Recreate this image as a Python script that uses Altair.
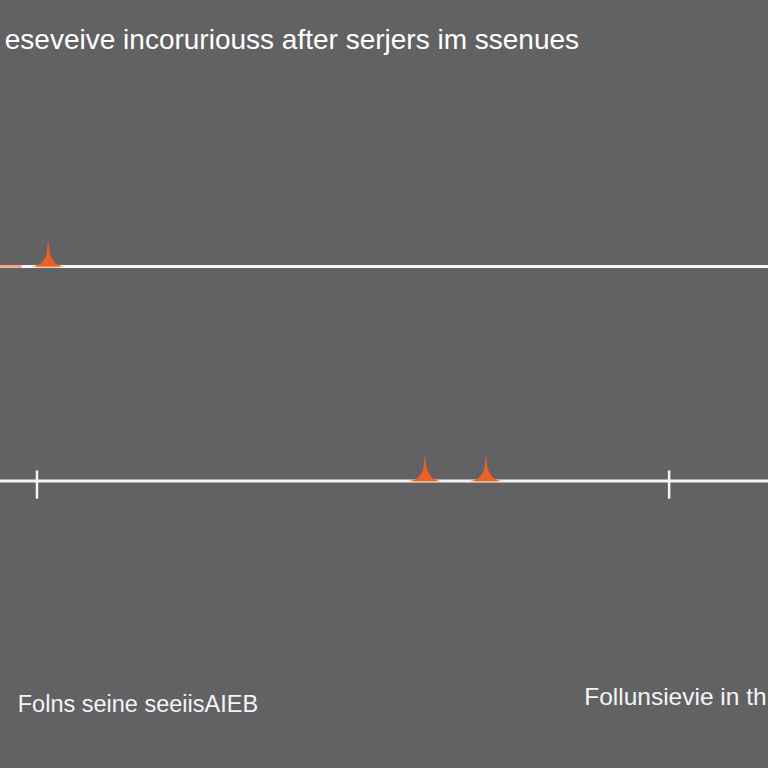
import altair as alt
import pandas as pd

# --- data (x and y in chart units: 16 x 16 grid) ---
series = ["upper", "lower"]
series_level = [10.45, 5.98]
series_start = [0.0, 0.0]
series_end = [16.0, 16.0]

tick_x = [0.77, 13.94]
tick_series = ["lower", "lower"]

marker_x = [1.0, 8.85, 10.12]
marker_series = ["upper", "lower", "lower"]

title_text = "eseveive incoruriouss  after serjers im ssenues"
foot_labels = ["Folns seine seeiisAIEB", "Follunsievie in th"]
foot_x = [0.37, 12.17]
foot_y = [1.17, 1.32]

level = dict(zip(series, series_level))

lines = pd.DataFrame({"series": series, "y": series_level, "x": series_start, "x2": series_end})
ticks = pd.DataFrame({"x": tick_x, "y": [level[s] for s in tick_series]})
ticks["y1"] = ticks["y"] + 0.22
ticks["y2"] = ticks["y"] - 0.37
markers = pd.DataFrame({"x": marker_x, "y": [level[s] for s in marker_series]})
glow = pd.DataFrame({"x": [0.0], "x2": [0.45], "y": [level["upper"]]})
titles = pd.DataFrame({"label": [title_text], "x": [0.1], "y": [14.97]})
foots = pd.DataFrame({"label": foot_labels, "x": foot_x, "y": foot_y, "size": [23.5, 24.5]})

xs = alt.Scale(domain=[0, 16], nice=False, zero=False)
ys = alt.Scale(domain=[0, 16], nice=False, zero=False)
X = lambda f: alt.X(f, type="quantitative", scale=xs, axis=None)
Y = lambda f: alt.Y(f, type="quantitative", scale=ys, axis=None)

line_layer = alt.Chart(lines).mark_rule(color="#f4f4f4", strokeWidth=3).encode(
    x=X("x"), x2="x2", y=Y("y"))

glow_layer = alt.Chart(glow).mark_rule(color="#e8773e", strokeWidth=3, opacity=0.6).encode(
    x=X("x"), x2="x2", y=Y("y"))

tick_layer = alt.Chart(ticks).mark_rule(color="#f4f4f4", strokeWidth=2.5).encode(
    x=X("x"), y=Y("y1"), y2="y2")

spike_path = "M0,-1 L0.07,-0.5 Q0.15,-0.12 0.5,0 L-0.5,0 Q-0.13,-0.12 -0.05,-0.5 Z"
base_path = "M-0.65,0 Q0,-0.16 0.65,0 Q0,0.1 -0.65,0 Z"

base_layer = alt.Chart(markers).mark_point(
    shape=base_path, filled=True, color="#f2b27a", opacity=0.9, size=2800, strokeWidth=0
).encode(x=X("x"), y=Y("y"))

spike_layer = alt.Chart(markers).mark_point(
    shape=spike_path, filled=True, color="#ec5f28", opacity=1, size=2800, strokeWidth=0
).encode(x=X("x"), y=Y("y"))

title_layer = alt.Chart(titles).mark_text(
    align="left", baseline="alphabetic", fontSize=28, color="#ffffff", font="Liberation Sans"
).encode(x=X("x"), y=Y("y"), text="label:N")

foot_layer = alt.Chart(foots).mark_text(
    align="left", baseline="alphabetic", color="#f4f4f4", font="Liberation Sans"
).encode(x=X("x"), y=Y("y"), text="label:N",
         size=alt.Size("size:Q", scale=None, legend=None))

chart = alt.layer(
    line_layer, glow_layer, tick_layer, base_layer, spike_layer, title_layer, foot_layer
).properties(
    width=768, height=768, background="#626264", padding=0,
    autosize=alt.AutoSizeParams(type="none")
).configure_view(stroke=None)

chart.save("out.html", embed_options={"renderer": "svg", "actions": False})
